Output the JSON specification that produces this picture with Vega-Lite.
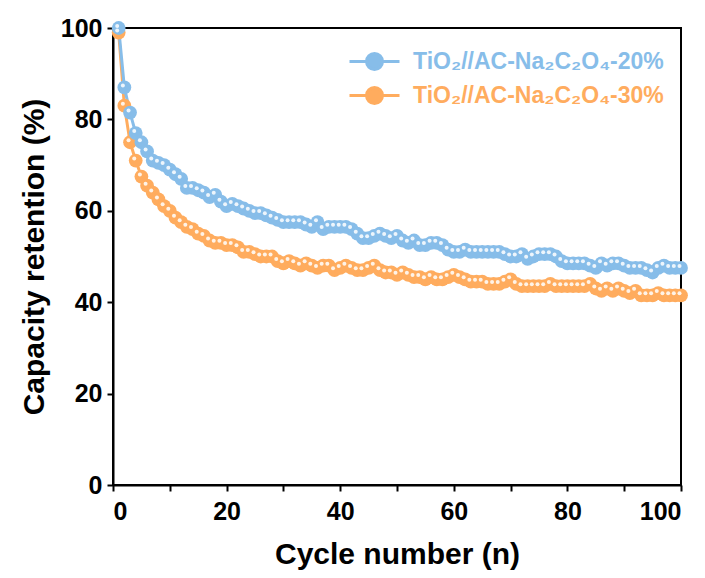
{
  "$schema": "https://vega.github.io/schema/vega-lite/v6.json",
  "width": 568,
  "height": 457,
  "autosize": {"type": "none"},
  "padding": {"left": 113, "top": 28, "right": 24, "bottom": 93},
  "background": "white",
  "config": {
    "view": {"stroke": "black", "strokeWidth": 2},
    "axis": {
      "grid": false,
      "domainColor": "black",
      "domainWidth": 2,
      "tickColor": "black",
      "tickWidth": 2,
      "tickSize": 6,
      "labelFont": "Liberation Sans",
      "labelFontWeight": "bold",
      "labelFontSize": 25,
      "labelColor": "black",
      "titleFont": "Liberation Sans",
      "titleFontWeight": "bold",
      "titleFontSize": 30,
      "titleColor": "black"
    }
  },
  "data": {
    "values": [
      {"n":1,"s20":100,"s30":99},{"n":2,"s20":87,"s30":83},{"n":3,"s20":81.5,"s30":75},{"n":4,"s20":77,"s30":71},{"n":5,"s20":75,"s30":67.5},
      {"n":6,"s20":73,"s30":65.5},{"n":7,"s20":71,"s30":64},{"n":8,"s20":70.5,"s30":62.5},{"n":9,"s20":70,"s30":61},{"n":10,"s20":69,"s30":60},
      {"n":11,"s20":68,"s30":58.5},{"n":12,"s20":67,"s30":57.5},{"n":13,"s20":65,"s30":56.5},{"n":14,"s20":65,"s30":56},{"n":15,"s20":64.5,"s30":55},
      {"n":16,"s20":64,"s30":54.5},{"n":17,"s20":63,"s30":53.5},{"n":18,"s20":63.5,"s30":53},{"n":19,"s20":62,"s30":53},{"n":20,"s20":61,"s30":52.5},
      {"n":21,"s20":61.5,"s30":52.5},{"n":22,"s20":61,"s30":52},{"n":23,"s20":60.5,"s30":51},{"n":24,"s20":60,"s30":51},{"n":25,"s20":59.5,"s30":50.5},
      {"n":26,"s20":59.5,"s30":50},{"n":27,"s20":59,"s30":50},{"n":28,"s20":58.5,"s30":50},{"n":29,"s20":58,"s30":49},{"n":30,"s20":57.5,"s30":48.5},
      {"n":31,"s20":57.5,"s30":49},{"n":32,"s20":57.5,"s30":48.5},{"n":33,"s20":57.5,"s30":48},{"n":34,"s20":57,"s30":48.5},{"n":35,"s20":56.5,"s30":48},
      {"n":36,"s20":57.5,"s30":47.5},{"n":37,"s20":56,"s30":48},{"n":38,"s20":56.5,"s30":48},{"n":39,"s20":56.5,"s30":47},{"n":40,"s20":56.5,"s30":47.5},
      {"n":41,"s20":56.5,"s30":48},{"n":42,"s20":56,"s30":47.5},{"n":43,"s20":55,"s30":47},{"n":44,"s20":54,"s30":47},{"n":45,"s20":54,"s30":47.5},
      {"n":46,"s20":54.5,"s30":48},{"n":47,"s20":55,"s30":47},{"n":48,"s20":54.5,"s30":46.5},{"n":49,"s20":54,"s30":46.5},{"n":50,"s20":54.5,"s30":46},
      {"n":51,"s20":53.5,"s30":46.5},{"n":52,"s20":53,"s30":46},{"n":53,"s20":53.5,"s30":45.5},{"n":54,"s20":52.5,"s30":45.5},{"n":55,"s20":52.5,"s30":45},
      {"n":56,"s20":53,"s30":45.5},{"n":57,"s20":53,"s30":45},{"n":58,"s20":52.5,"s30":45},{"n":59,"s20":51.5,"s30":45.5},{"n":60,"s20":51,"s30":46},
      {"n":61,"s20":51,"s30":45.5},{"n":62,"s20":51.5,"s30":45},{"n":63,"s20":51,"s30":44.5},{"n":64,"s20":51,"s30":44.5},{"n":65,"s20":51,"s30":44.5},
      {"n":66,"s20":51,"s30":44},{"n":67,"s20":51,"s30":44},{"n":68,"s20":51,"s30":44},{"n":69,"s20":50.5,"s30":44.5},{"n":70,"s20":50,"s30":45},
      {"n":71,"s20":50,"s30":44},{"n":72,"s20":50.5,"s30":43.5},{"n":73,"s20":49.5,"s30":43.5},{"n":74,"s20":50,"s30":43.5},{"n":75,"s20":50.5,"s30":43.5},
      {"n":76,"s20":50.5,"s30":43.5},{"n":77,"s20":50.5,"s30":44},{"n":78,"s20":50,"s30":43.5},{"n":79,"s20":49,"s30":43.5},{"n":80,"s20":48.5,"s30":43.5},
      {"n":81,"s20":48.5,"s30":43.5},{"n":82,"s20":48.5,"s30":43.5},{"n":83,"s20":48.5,"s30":43.5},{"n":84,"s20":48,"s30":44},{"n":85,"s20":47.5,"s30":43},
      {"n":86,"s20":48.5,"s30":42.5},{"n":87,"s20":48,"s30":43},{"n":88,"s20":48.5,"s30":42.5},{"n":89,"s20":48.5,"s30":43},{"n":90,"s20":48,"s30":42.5},
      {"n":91,"s20":47.5,"s30":42},{"n":92,"s20":47.5,"s30":42.5},{"n":93,"s20":47.5,"s30":41.5},{"n":94,"s20":47,"s30":41.5},{"n":95,"s20":46.5,"s30":41.5},
      {"n":96,"s20":47.5,"s30":42},{"n":97,"s20":48,"s30":41.5},{"n":98,"s20":47.5,"s30":41.5},{"n":99,"s20":47.5,"s30":41.5},{"n":100,"s20":47.5,"s30":41.5}
    ]
  },
  "transform": [
    {"fold": ["s30", "s20"], "as": ["series", "retention"]}
  ],
  "encoding": {
    "x": {
      "field": "n", "type": "quantitative",
      "scale": {"domain": [0, 100], "nice": false},
      "axis": {
        "title": "Cycle number (n)",
        "values": [0,10,20,30,40,50,60,70,80,90,100],
        "labelExpr": "datum.value % 20 === 0 ? datum.label : ''",
        "labelPadding": 8,
        "titlePadding": 15
      }
    },
    "y": {
      "field": "retention", "type": "quantitative",
      "scale": {"domain": [0, 100], "nice": false},
      "axis": {
        "title": "Capacity retention (%)",
        "values": [0,20,40,60,80,100],
        "labelPadding": 5,
        "titlePadding": 11
      }
    },
    "color": {
      "field": "series", "type": "nominal",
      "scale": {"domain": ["s20", "s30"], "range": ["#87bde9", "#ffac5e"]},
      "legend": {
        "title": null,
        "orient": "none",
        "legendX": 250,
        "legendY": 22,
        "labelExpr": "datum.value === 's20' ? 'TiO₂//AC-Na₂C₂O₄-20%' : 'TiO₂//AC-Na₂C₂O₄-30%'",
        "labelFont": "Liberation Sans",
        "labelFontWeight": "bold",
        "labelFontSize": 23,
        "labelOffset": 27,
        "labelLimit": 400,
        "symbolType": "M-2.5,0H-0.8M0.8,0H2.5M-0.8,0A0.8,0.8 0 1,0 0.8,0A0.8,0.8 0 1,0 -0.8,0Z",
        "symbolSize": 400,
        "symbolStrokeWidth": 3,
        "symbolOpacity": 1,
        "rowPadding": 5,
        "encode": {
          "labels": {"update": {"fill": {"signal": "scale('color', datum.value)"}}},
          "symbols": {"update": {"stroke": {"signal": "scale('color', datum.value)"}, "fill": {"signal": "scale('color', datum.value)"}}}
        }
      }
    }
  },
  "layer": [
    {
      "mark": {"type": "line", "strokeWidth": 3},
      "encoding": {"order": {"field": "n"}}
    },
    {
      "mark": {"type": "point", "filled": true, "opacity": 1, "size": 190, "shape": "circle"},
      "encoding": {
        "order": {"field": "series", "sort": "descending"}
      }
    },
    {
      "mark": {"type": "point", "filled": true, "opacity": 0.85, "size": 16, "shape": "circle", "xOffset": -1.5, "yOffset": -2},
      "encoding": {"color": {"value": "white"}}
    }
  ]
}
